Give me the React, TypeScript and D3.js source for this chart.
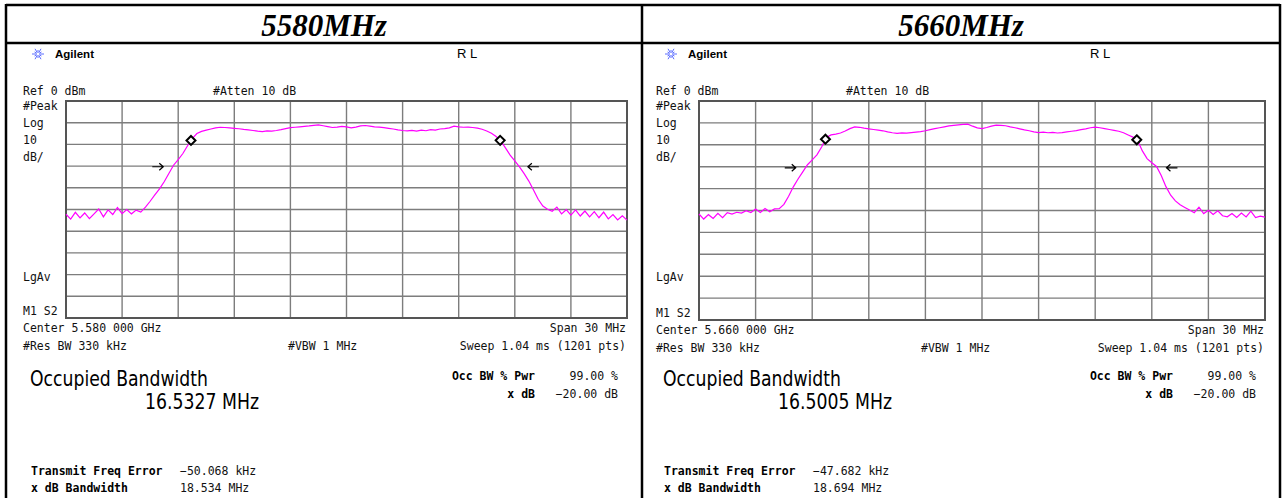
import React from 'react';
import * as d3 from 'd3';

// sweep: -15 .. +15 MHz around the centre, 0.25 MHz per point (121 pts)
const spanMHz = 30;

// trace readings in dBm, left to right
const trace5580 = [
  -52.2, -54.4, -51.3, -53.9, -51.6, -54.2, -52.0, -49.8, -53.4, -50.2,
  -52.3, -49.1, -51.9, -50.0, -52.0, -50.3, -51.2, -48.9, -46.2, -43.3,
  -40.5, -37.2, -33.4, -29.6, -27.0, -24.2, -20.6, -17.3, -15.0, -14.0,
  -13.4, -12.9, -12.4, -12.1, -12.2, -12.4, -12.6, -12.8, -13.1, -13.3,
  -13.6, -13.9, -14.1, -13.8, -13.9, -13.6, -13.2, -12.7, -12.3, -12.1,
  -11.9, -11.7, -11.5, -11.2, -11.0, -11.4, -11.8, -12.2, -12.0, -11.7,
  -11.9, -12.4, -12.0, -11.5, -11.3, -11.6, -11.9, -12.0, -12.3, -12.6,
  -12.9, -13.3, -13.6, -13.8, -13.5, -13.9, -13.4, -13.7, -13.2, -13.4,
  -12.9, -12.7, -12.4, -11.6, -11.9, -12.1, -12.0, -12.2, -12.5, -13.0,
  -13.8, -14.9, -16.4, -18.4, -21.6, -24.9, -27.6, -30.4, -33.5, -36.9,
  -41.0, -45.3, -48.4, -49.9, -50.8, -48.9, -52.0, -50.1, -52.6, -50.2,
  -53.0, -50.7, -53.4, -51.0, -53.8, -51.2, -54.3, -52.3, -54.8, -52.9,
  -54.9,
];

const trace5660 = [
  -51.6, -53.9, -51.9, -53.6, -51.3, -53.3, -51.0, -51.6, -50.8, -51.2,
  -50.1, -50.9, -49.3, -50.9, -49.1, -50.6, -49.3, -49.2, -47.2, -43.5,
  -39.2, -35.6, -32.4, -29.1, -26.9, -24.6, -21.0, -16.6, -15.5, -15.1,
  -14.6, -13.7, -12.6, -11.8, -12.0, -12.4, -12.7, -13.0, -13.3, -13.6,
  -14.1, -14.5, -14.8, -14.6, -14.7, -14.4, -14.2, -14.0, -13.6, -13.1,
  -12.6, -12.2, -11.8, -11.4, -11.1, -10.9, -10.7, -10.6, -11.5, -12.3,
  -12.6, -12.1, -11.5, -11.0, -11.1, -11.3, -11.8, -12.2, -12.7, -13.2,
  -13.6, -14.1, -14.4, -14.2, -14.5, -14.3, -14.6, -14.4, -14.1, -13.8,
  -13.5, -13.1, -12.7, -12.2, -11.9, -12.2, -12.6, -13.0, -13.4, -13.8,
  -14.5, -15.5, -16.5, -18.0, -22.8, -26.3, -28.2, -29.9, -34.0, -39.1,
  -43.0, -45.6, -47.4, -48.6, -49.8, -51.0, -48.5, -51.4, -49.9, -51.8,
  -50.1, -52.4, -52.9, -51.4, -53.2, -51.2, -52.9, -50.3, -53.2, -52.6,
  -53.0,
];

const panelTitles = ['5580MHz', '5660MHz'];
const centerLabels = ['Center 5.580 000 GHz', 'Center 5.660 000 GHz'];
const occBwValues = ['16.5327 MHz', '16.5005 MHz'];
const freqErrors = ['\u221250.068 kHz', '\u221247.682 kHz'];
const xdbBandwidths = ['18.534 MHz', '18.694 MHz'];
// marker frequencies (MHz offset from centre)
const obwEdges = [[-8.316, 8.217], [-8.298, 8.203]];
const xdbEdges = [[-9.317, 9.217], [-9.395, 9.299]];
const xdbLevels = [-30.3, -30.5];

const mono = '"DejaVu Sans Mono", monospace';
const sans = '"DejaVu Sans", sans-serif';

function levelAt(trace: number[], f: number) {
  const step = spanMHz / (trace.length - 1);
  const i = Math.min(trace.length - 2, Math.floor((f + spanMHz / 2) / step));
  const t = (f + spanMHz / 2 - i * step) / step;
  return trace[i] + (trace[i + 1] - trace[i]) * t;
}

function Logo({ x, y }: { x: number; y: number }) {
  const rays = d3.range(12).map((k) => (k * Math.PI) / 6);
  return (
    <g stroke="#5a6cff" strokeWidth={1}>
      {rays.map((a, k) => (
        <line key={k}
          x1={x + Math.cos(a) * 1.5} y1={y + Math.sin(a) * 1.5}
          x2={x + Math.cos(a) * (k % 2 ? 4 : 6)} y2={y + Math.sin(a) * (k % 2 ? 4 : 6)} />
      ))}
    </g>
  );
}

function Panel({ idx, trace, x0, x1, y0, y1, cellX0, cellX1 }: any) {
  const x = d3.scaleLinear().domain([-spanMHz / 2, spanMHz / 2]).range([x0, x1]);
  const y = d3.scaleLinear().domain([0, -100]).range([y0, y1]);
  const step = spanMHz / (trace.length - 1);
  const line = d3.line<number>()
    .x((_, i) => x(-spanMHz / 2 + i * step))
    .y((d) => y(d));
  const L = x0 - 43;
  const xt = d3.range(1, 10).map((k) => -spanMHz / 2 + k * 3);
  const yt = d3.range(1, 10).map((k) => -k * 10);
  const [e1, e2] = xdbEdges[idx];
  const ay = y(xdbLevels[idx]);
  const small = { fontFamily: mono, fontSize: 11.5, fill: '#111' };
  const bold = { fontFamily: mono, fontSize: 11.5, fontWeight: 700, fill: '#000' };

  return (
    <g>
      <text x={(cellX0 + cellX1) / 2} y={36} textAnchor="middle"
        style={{ fontFamily: '"Liberation Serif", serif', fontSize: 31, fontWeight: 700, fontStyle: 'italic' }}>
        {panelTitles[idx]}
      </text>

      <Logo x={L + 15} y={54} />
      <text x={L + 32} y={58} style={{ fontFamily: '"Liberation Sans", Arial', fontSize: 11.5, fontWeight: 700 }}>Agilent</text>
      <text x={x0 + 391} y={58} style={{ fontFamily: '"Liberation Sans", Arial', fontSize: 13 }}>R L</text>

      <text x={L} y={95} style={small}>Ref 0 dBm</text>
      <text x={x0 + 147} y={95} style={small}>#Atten 10 dB</text>
      <text x={L} y={110} style={small}>#Peak</text>
      <text x={L} y={127} style={small}>Log</text>
      <text x={L} y={144} style={small}>10</text>
      <text x={L} y={161} style={small}>dB/</text>
      <text x={L} y={281} style={small}>LgAv</text>
      <text x={L} y={y1 - 3} style={small}>M1 S2</text>

      {/* grid */}
      <g stroke="#7d7d7d" strokeWidth={1.4}>
        {xt.map((f) => <line key={'v' + f} x1={x(f)} x2={x(f)} y1={y0} y2={y1} />)}
        {yt.map((v) => <line key={'h' + v} x1={x0} x2={x1} y1={y(v)} y2={y(v)} />)}
      </g>
      <rect x={x0} y={y0} width={x1 - x0} height={y1 - y0} fill="none" stroke="#555" strokeWidth={2} />

      <path d={line(trace) || ''} fill="none" stroke="#ff00ff" strokeWidth={1.2} />

      {/* x dB arrows */}
      <g stroke="#000" strokeWidth={1.2} fill="none">
        <path d={`M${x(e1) - 20},${ay}H${x(e1) - 9}M${x(e1) - 13},${ay - 3.5}L${x(e1) - 9},${ay}L${x(e1) - 13},${ay + 3.5}`} />
        <path d={`M${x(e2) + 20},${ay}H${x(e2) + 9}M${x(e2) + 13},${ay - 3.5}L${x(e2) + 9},${ay}L${x(e2) + 13},${ay + 3.5}`} />
      </g>

      {/* occupied bandwidth markers */}
      {obwEdges[idx].map((f: number, k: number) => {
        const cx = x(f);
        const cy = y(levelAt(trace, f));
        return (
          <path key={k} d={`M${cx},${cy - 4.5}L${cx + 4.5},${cy}L${cx},${cy + 4.5}L${cx - 4.5},${cy}Z`}
            fill="#fff" stroke="#000" strokeWidth={2} />
        );
      })}

      <text x={L} y={y1 + 14} style={small}>{centerLabels[idx]}</text>
      <text x={x1 - 1} y={y1 + 14} textAnchor="end" style={small}>Span 30 MHz</text>
      <text x={L} y={y1 + 32} style={small}>#Res BW 330 kHz</text>
      <text x={x0 + 222} y={y1 + 32} style={small}>#VBW 1 MHz</text>
      <text x={x1 - 1} y={y1 + 32} textAnchor="end" style={small}>Sweep 1.04 ms (1201 pts)</text>

      <text x={L + 7} y={386} textLength={178} lengthAdjust="spacingAndGlyphs"
        style={{ fontFamily: sans, fontSize: 21 }}>Occupied Bandwidth</text>
      <text x={x0 + 79} y={409} textLength={114} lengthAdjust="spacingAndGlyphs"
        style={{ fontFamily: sans, fontSize: 21 }}>{occBwValues[idx]}</text>

      <text x={x1 - 92} y={380} textAnchor="end" style={bold}>Occ BW % Pwr</text>
      <text x={x1 - 9} y={380} textAnchor="end" style={small}>99.00 %</text>
      <text x={x1 - 92} y={398} textAnchor="end" style={bold}>x dB</text>
      <text x={x1 - 9} y={398} textAnchor="end" style={small}>{'\u221220.00 dB'}</text>

      <text x={L + 8} y={475} style={bold}>Transmit Freq Error</text>
      <text x={x0 + 114} y={475} style={small}>{freqErrors[idx]}</text>
      <text x={L + 8} y={492} style={bold}>x dB Bandwidth</text>
      <text x={x0 + 114} y={492} style={small}>{xdbBandwidths[idx]}</text>
    </g>
  );
}

export default function App() {
  const W = 1285;
  const H = 498;
  return (
    <svg width={W} height={H} style={{ position: 'absolute', left: 0, top: 0, background: '#fff' }}>
      <rect x={0} y={0} width={W} height={H} fill="#fff" />
      <Panel idx={0} trace={trace5580} x0={66} x1={627} y0={101} y1={318} cellX0={6} cellX1={642} />
      <Panel idx={1} trace={trace5660} x0={699} x1={1265} y0={101} y1={320} cellX0={642} cellX1={1280} />
      <g stroke="#000" strokeWidth={2.5} fill="none">
        <line x1={6} x2={1280} y1={5} y2={5} />
        <line x1={6} x2={1280} y1={43} y2={43} />
        <line x1={6} x2={6} y1={4} y2={H} />
        <line x1={642} x2={642} y1={4} y2={H} />
        <line x1={1280} x2={1280} y1={4} y2={H} />
      </g>
    </svg>
  );
}
